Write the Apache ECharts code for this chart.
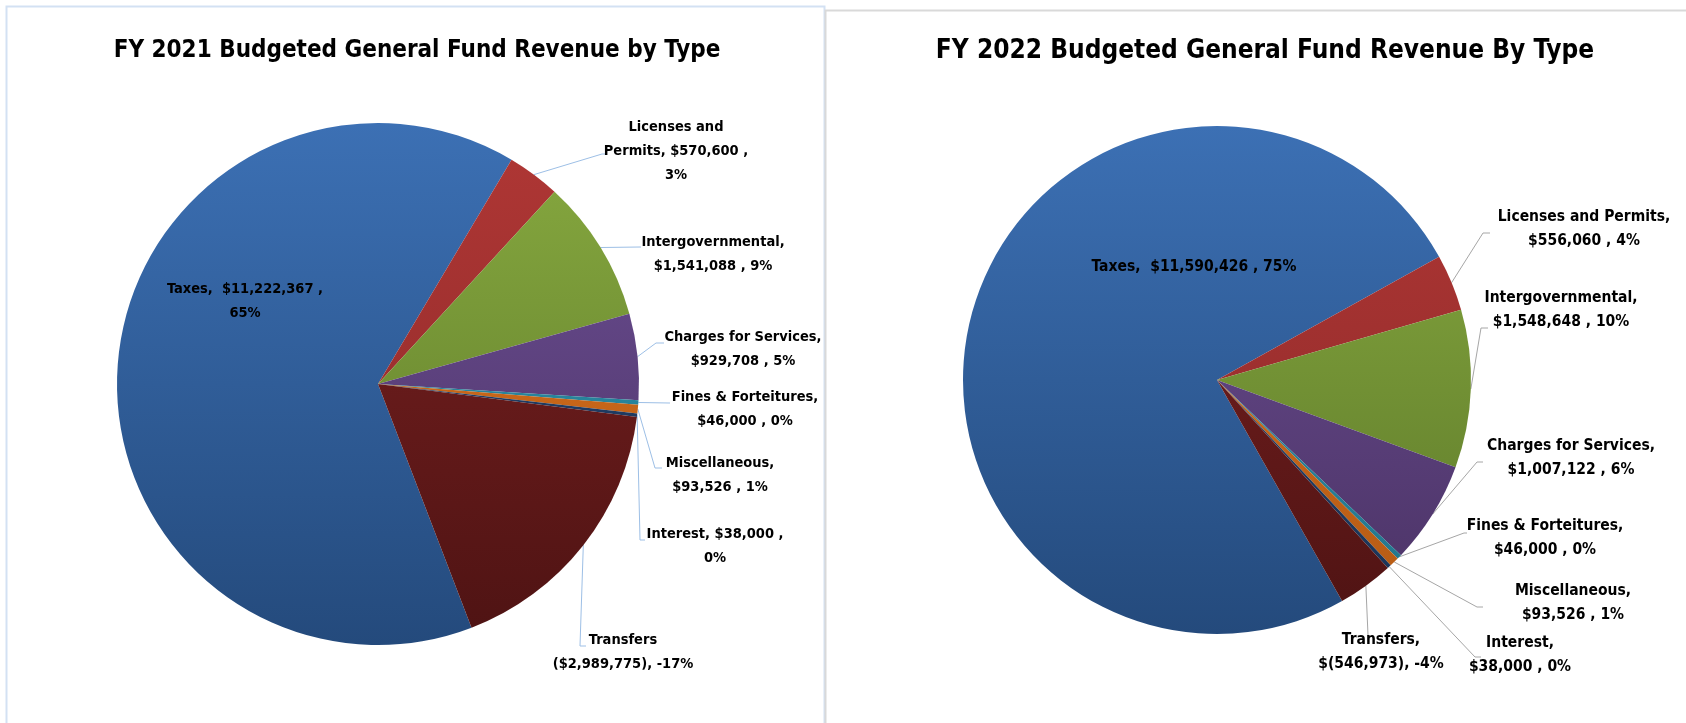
<!DOCTYPE html>
<html>
<head>
<meta charset="utf-8">
<title>Budgeted General Fund Revenue by Type</title>
<script src="https://cdn.jsdelivr.net/npm/echarts@6/dist/echarts.min.js"></script>
<style>
  html, body { margin: 0; padding: 0; background: #ffffff; }
  #chart { width: 1686px; height: 723px; }
</style>
</head>
<body>
<div id="chart"></div>
<script>
// Revenue categories (same for both fiscal years)
const categories = [
  'Taxes', 'Licenses and Permits', 'Intergovernmental', 'Charges for Services',
  'Fines & Forteitures', 'Miscellaneous', 'Interest', 'Transfers'
];

// FY 2021 budgeted amounts and the percentages printed on the labels
const fy2021Values = [11222367, 570600, 1541088, 929708, 46000, 93526, 38000, -2989775];
const fy2021Pct = ['65%', '3%', '9%', '5%', '0%', '1%', '0%', '-17%'];

// FY 2022 budgeted amounts and the percentages printed on the labels
const fy2022Values = [11590426, 556060, 1548648, 1007122, 46000, 93526, 38000, -546973];
const fy2022Pct = ['75%', '4%', '10%', '6%', '0%', '1%', '0%', '-4%'];

const titles = [
  'FY 2021 Budgeted General Fund Revenue by Type',
  'FY 2022 Budgeted General Fund Revenue By Type'
];

const FONT = '"Liberation Sans Narrow", "DejaVu Sans Condensed", "Open Sans", sans-serif';

// Slice shading: [top colour, bottom colour] of a vertical gradient
const sliceShades = [
  ['#3C70B4', '#244A7C'],
  ['#B03735', '#8A2828'],
  ['#88AA40', '#5C7829'],
  ['#6E5096', '#4A3264'],
  ['#2E95AE', '#22748A'],
  ['#DA721E', '#B45A14'],
  ['#24446F', '#1A3356'],
  ['#7E2222', '#4E1313']
];

function money(v) {
  return '$' + Math.abs(v).toLocaleString('en-US');
}

// Label text layouts for each chart ({n} name, {v} amount, {p} percent)
const fy2021Text = [
  '{n},  {v} ,\n{p}',
  'Licenses and\nPermits, {v} ,\n{p}',
  '{n},\n{v} , {p}',
  '{n},\n{v} , {p}',
  '{n},\n{v} , {p}',
  '{n},\n{v} , {p}',
  '{n}, {v} ,\n{p}',
  '{n}\n({v}), {p}'
];
const fy2022Text = [
  '{n},  {v} , {p}',
  '{n},\n{v} , {p}',
  '{n},\n{v} , {p}',
  '{n},\n{v} , {p}',
  '{n},\n{v} , {p}',
  '{n},\n{v} , {p}',
  'Interest,\n{v} , {p}',
  '{n},\n$({a}), {p}'
];

// Placement of each label block (centre) and its leader line bend / end
const fy2021Spots = [
  { x: 245, y: 301 },
  { x: 676, y: 151, bend: [602, 154], end: [605, 154] },
  { x: 713, y: 254, bend: [640, 247], end: [641, 247] },
  { x: 743, y: 349, bend: [656, 343], end: [664, 343] },
  { x: 745, y: 409, bend: [669, 403], end: [670, 403] },
  { x: 720, y: 475, bend: [655, 468], end: [662, 468] },
  { x: 715, y: 546, bend: [640, 540], end: [645, 540] },
  { x: 623, y: 652, bend: [580, 646], end: [586, 646] }
];
const fy2022Spots = [
  { x: 1194, y: 267 },
  { x: 1584, y: 229, bend: [1483, 233], end: [1490, 233] },
  { x: 1561, y: 310, bend: [1481, 328], end: [1488, 328] },
  { x: 1571, y: 458, bend: [1477, 462], end: [1483, 462] },
  { x: 1545, y: 538, bend: [1464, 533], end: [1467, 533] },
  { x: 1573, y: 603, bend: [1477, 607], end: [1483, 607] },
  { x: 1520, y: 655, bend: [1475, 657], end: [1481, 657] },
  { x: 1381, y: 652, bend: [1368, 635], end: [1368, 636] }
];

function buildSeries(cfg) {
  const total = cfg.values.reduce((s, v) => s + Math.abs(v), 0);
  const top = cfg.center[1] - cfg.radius;
  const bottom = cfg.center[1] + cfg.radius;

  // Edge point of a slice at its middle angle
  function edgePoint(idx) {
    let before = 0;
    for (let i = 0; i < idx; i++) before += Math.abs(cfg.values[i]);
    const mid = before + Math.abs(cfg.values[idx]) / 2;
    const theta = (cfg.startAngle - mid / total * 360) * Math.PI / 180;
    return [cfg.center[0] + cfg.radius * Math.cos(theta), cfg.center[1] - cfg.radius * Math.sin(theta)];
  }

  const data = categories.map((name, i) => ({
    name: name,
    value: Math.abs(cfg.values[i]),
    itemStyle: {
      color: new echarts.graphic.LinearGradient(0, top, 0, bottom, [
        { offset: 0, color: sliceShades[i][0] },
        { offset: 1, color: sliceShades[i][1] }
      ], true)
    },
    labelLine: { show: i !== 0 }
  }));

  return {
    type: 'pie',
    center: cfg.center,
    radius: cfg.radius,
    startAngle: cfg.startAngle,
    clockwise: true,
    avoidLabelOverlap: false,
    animation: false,
    silent: true,
    data: data,
    label: {
      show: true,
      position: 'outside',
      color: '#000000',
      fontFamily: FONT,
      fontWeight: 'bold',
      fontSize: cfg.fontSize,
      lineHeight: cfg.lineHeight,
      align: 'center',
      formatter: function (p) {
        const i = p.dataIndex;
        const raw = cfg.values[i];
        return cfg.text[i]
          .replace('{n}', categories[i])
          .replace('{v}', money(raw))
          .replace('{a}', Math.abs(raw).toLocaleString('en-US'))
          .replace('{p}', cfg.pct[i]);
      }
    },
    labelLine: {
      show: true,
      smooth: false,
      lineStyle: { color: cfg.lineColor, width: 1 }
    },
    labelLayout: function (params) {
      const spot = cfg.spots[params.dataIndex];
      const out = { x: spot.x, y: spot.y, align: 'center', verticalAlign: 'middle' };
      if (spot.end) {
        out.labelLinePoints = [edgePoint(params.dataIndex), spot.bend, spot.end];
      }
      return out;
    }
  };
}

const chart = echarts.init(document.getElementById('chart'), null, { renderer: 'canvas' });

chart.setOption({
  backgroundColor: '#ffffff',
  title: [
    {
      text: titles[0], left: 412, top: 46, textAlign: 'center', textVerticalAlign: 'middle',
      textStyle: { fontFamily: FONT, fontWeight: 'bold', fontSize: 24, color: '#000000' }
    },
    {
      text: titles[1], left: 1260, top: 46, textAlign: 'center', textVerticalAlign: 'middle',
      textStyle: { fontFamily: FONT, fontWeight: 'bold', fontSize: 26, color: '#000000' }
    }
  ],
  graphic: [
    {
      type: 'rect', silent: true, z: -1,
      shape: { x: 6.5, y: 6.5, width: 818, height: 760 },
      style: { fill: 'none', stroke: '#D3E1F3', lineWidth: 2 }
    },
    {
      type: 'rect', silent: true, z: -1,
      shape: { x: 825.5, y: 10.5, width: 900, height: 760 },
      style: { fill: 'none', stroke: '#D9D9D9', lineWidth: 2 }
    }
  ],
  series: [
    buildSeries({
      values: fy2021Values, pct: fy2021Pct, text: fy2021Text, spots: fy2021Spots,
      center: [378, 384], radius: 261, startAngle: 291, lineColor: '#9DBFE6',
      fontSize: 14.5, lineHeight: 24
    }),
    buildSeries({
      values: fy2022Values, pct: fy2022Pct, text: fy2022Text, spots: fy2022Spots,
      center: [1217, 380], radius: 254, startAngle: 299.5, lineColor: '#A6A6A6',
      fontSize: 15.5, lineHeight: 24
    })
  ]
});
</script>
</body>
</html>
